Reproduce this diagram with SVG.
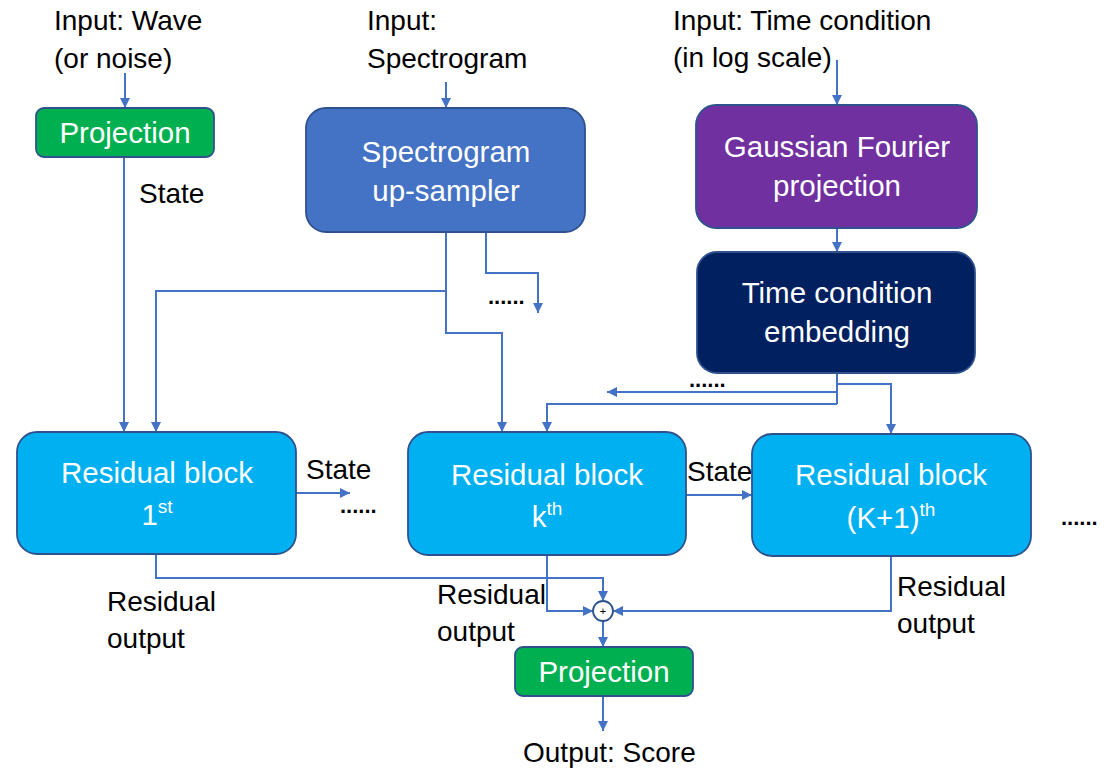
<svg xmlns="http://www.w3.org/2000/svg" width="1114" height="778" viewBox="0 0 1114 778">
<style>
.lbl{font-family:"Liberation Sans",Arial,sans-serif;font-size:28px;fill:#000}
.wt{font-family:"Liberation Sans",Arial,sans-serif;font-size:29.5px;fill:#fff;text-anchor:middle}
.box{stroke:#2F528F;stroke-width:1.8}
.c{fill:none;stroke:#4472C4;stroke-width:2}
.a{marker-end:url(#ah)}
.dots{font-family:"Liberation Sans",Arial,sans-serif;font-size:22px;font-weight:bold;fill:#000}
</style>
<defs>
<marker id="ah" markerUnits="userSpaceOnUse" markerWidth="10" markerHeight="10" refX="10" refY="5" orient="auto">
<path d="M0,0 L10,5 L0,10 z" fill="#4472C4"/>
</marker>
</defs>
<rect width="1114" height="778" fill="#fff"/>

<g id="labels">
<text class="lbl" x="54" y="30">Input: Wave</text>
<text class="lbl" x="54" y="68">(or noise)</text>
<text class="lbl" x="367" y="30">Input:</text>
<text class="lbl" x="367" y="68">Spectrogram</text>
<text class="lbl" x="673" y="30">Input: Time condition</text>
<text class="lbl" x="673" y="67">(in log scale)</text>
<text class="lbl" x="139" y="203">State</text>
<text class="lbl" x="306" y="479">State</text>
<text class="lbl" x="687" y="481">State</text>
<text class="lbl" x="107" y="611">Residual</text>
<text class="lbl" x="107" y="648">output</text>
<text class="lbl" x="437" y="604">Residual</text>
<text class="lbl" x="437" y="641">output</text>
<text class="lbl" x="897" y="596">Residual</text>
<text class="lbl" x="897" y="633">output</text>
<text class="lbl" x="523" y="762">Output: Score</text>
<text class="dots" x="488" y="304">......</text>
<text class="dots" x="689" y="387">......</text>
<text class="dots" x="340" y="513">......</text>
<text class="dots" x="1061" y="525">......</text>
</g>

<g id="connectors">
<path class="c a" d="M125,73 V108"/>
<path class="c a" d="M446,82 V108"/>
<path class="c a" d="M837,60 V105"/>
<path class="c a" d="M837,228 V252"/>
<path class="c a" d="M124,157 V432"/>
<path class="c a" d="M446,232 V291 H156 V432"/>
<path class="c a" d="M446,291 V333 H502 V432"/>
<path class="c a" d="M486,232 V273 H538 V313"/>
<path class="c" d="M837,373 V404"/>
<path class="c a" d="M837,404 H547 V432"/>
<path class="c a" d="M837,392 H607"/>
<path class="c a" d="M837,384 H891 V434"/>
<path class="c a" d="M296,493 H350"/>
<path class="c a" d="M686,495 H752"/>
<path class="c a" d="M156,554 V578 H603 V601"/>
<path class="c a" d="M547,555 V611 H593"/>
<path class="c a" d="M891,556 V611 H613"/>
<path class="c a" d="M603,621 V647"/>
<path class="c a" d="M603,696 V731"/>
</g>

<g id="sum">
<circle cx="603" cy="611" r="10" fill="#fff" stroke="#2F528F" stroke-width="1.8"/>
<text x="603" y="615" font-family="Liberation Sans,Arial,sans-serif" font-size="11" text-anchor="middle" fill="#000">+</text>
</g>

<g id="proj-in">
<rect class="box" x="36" y="108" width="178" height="49" rx="8" fill="#00B050"/>
<text class="wt" x="125" y="143">Projection</text>
</g>

<g id="spec-up">
<rect class="box" x="306" y="108" width="279" height="124" rx="20" fill="#4472C4"/>
<text class="wt" x="446" y="162">Spectrogram</text>
<text class="wt" x="446" y="201">up-sampler</text>
</g>

<g id="gauss">
<rect class="box" x="696" y="105" width="281" height="123" rx="20" fill="#7030A0"/>
<text class="wt" x="837" y="157">Gaussian Fourier</text>
<text class="wt" x="837" y="196">projection</text>
</g>

<g id="time-emb">
<rect class="box" x="697" y="252" width="278" height="121" rx="20" fill="#002060"/>
<text class="wt" x="837" y="303">Time condition</text>
<text class="wt" x="837" y="342">embedding</text>
</g>

<g id="res1">
<rect class="box" x="17" y="432" width="279" height="122" rx="20" fill="#00B0F0"/>
<text class="wt" x="157" y="483">Residual block</text>
<text class="wt" x="157" y="525">1<tspan font-size="19" dy="-12">st</tspan></text>
</g>

<g id="resk">
<rect class="box" x="408" y="432" width="278" height="123" rx="20" fill="#00B0F0"/>
<text class="wt" x="547" y="485">Residual block</text>
<text class="wt" x="547" y="527">k<tspan font-size="19" dy="-12">th</tspan></text>
</g>

<g id="resk1">
<rect class="box" x="752" y="434" width="279" height="122" rx="20" fill="#00B0F0"/>
<text class="wt" x="891" y="485">Residual block</text>
<text class="wt" x="891" y="528">(K+1)<tspan font-size="19" dy="-12">th</tspan></text>
</g>

<g id="proj-out">
<rect class="box" x="515" y="647" width="178" height="49" rx="8" fill="#00B050"/>
<text class="wt" x="604" y="682">Projection</text>
</g>
</svg>
